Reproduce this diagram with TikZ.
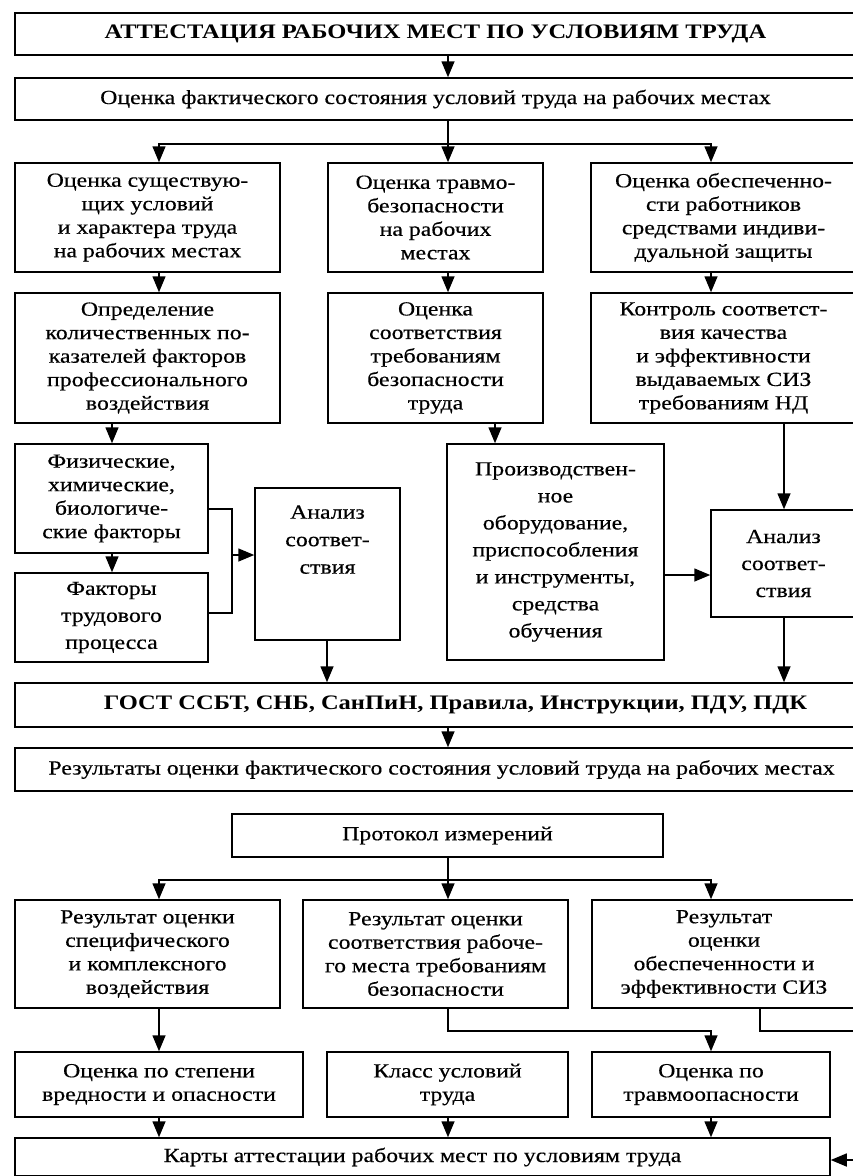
\documentclass[tikz,border=0pt]{standalone}
\usepackage{fontspec}
\setmainfont{Liberation Serif}[FakeStretch=1.19, UprightFeatures={FakeBold=0.4}]
\usetikzlibrary{arrows.meta,calc}
\tikzset{
  box/.style={draw, line width=1.5pt, inner sep=0pt, align=center,
    font=\fontsize{20}{23.5}\selectfont},
  widebox/.style={box, font=\fontsize{20}{27}\selectfont},
  bbox/.style={box, font=\fontsize{20.6}{23.5}\selectfont\bfseries},
  plain/.style={inner sep=0pt, align=center, font=\fontsize{20}{27.5}\selectfont},
  ln/.style={line width=1.5pt},
  arr/.style={line width=1.5pt, -{Triangle[length=16pt,width=13pt]}},
}
\newcommand\mkbox[7][box]{%
  \node[#1, minimum width={(#5-#3)*1pt}, minimum height={(#6-#4)*1pt}]
    (#2) at ({(#3+#5)/2},{-(#4+#6)/2}) {#7};}
\begin{document}
\begin{tikzpicture}[x=1pt,y=1pt]
\useasboundingbox (0,0) rectangle (852,-1176);
\fill[white] (0,0) rectangle (852,-1176);
% columns
\coordinate (xa) at (159,0);
\coordinate (xb) at (448,0);
\coordinate (xc) at (711,0);
\coordinate (xd) at (112,0);
\coordinate (xe) at (495,0);
\coordinate (xf) at (784,0);
\coordinate (xg) at (327,0);
\coordinate (xh) at (760,0);
% boxes
\mkbox[bbox]{title}{15}{13}{856}{55}{АТТЕСТАЦИЯ РАБОЧИХ МЕСТ ПО УСЛОВИЯМ ТРУДА}
\mkbox{oc}{15}{78}{856}{120}{Оценка фактического состояния условий труда на рабочих местах}
\mkbox{b1}{15}{163}{280}{272}{Оценка существую-\\щих условий\\и характера труда\\на рабочих местах}
\mkbox{b2}{328}{163}{543}{272}{Оценка травмо-\\безопасности\\на рабочих\\местах}
\mkbox{b3}{591}{163}{856}{272}{Оценка обеспеченно-\\сти работников\\средствами индиви-\\дуальной защиты}
\mkbox{c1}{15}{293}{280}{423}{Определение\\количественных по-\\казателей факторов\\профессионального\\воздействия}
\mkbox{c2}{328}{293}{543}{423}{Оценка\\соответствия\\требованиям\\безопасности\\труда}
\mkbox{c3}{591}{293}{856}{423}{Контроль соответст-\\вия качества\\и эффективности\\выдаваемых СИЗ\\требованиям НД}
\mkbox{d1}{15}{444}{208}{553}{Физические,\\химические,\\биологиче-\\ские факторы}
\mkbox[widebox]{d2}{15}{573}{208}{662}{Факторы\\трудового\\процесса}
\mkbox{an1}{255}{488}{400}{640}{}
\node[plain, anchor=north] (an1t) at ($(an1.north)+(0,-18)$) {Анализ\\соответ-\\ствия};
\mkbox[widebox]{pr}{447}{444}{664}{660}{Производствен-\\ное\\оборудование,\\приспособления\\и инструменты,\\средства\\обучения}
\mkbox[widebox]{an2}{711}{510}{856}{617}{Анализ\\соответ-\\ствия}
\mkbox[bbox]{gost}{15}{683}{856}{727}{\hspace*{40pt}ГОСТ ССБТ, СНБ, СанПиН, Правила, Инструкции, ПДУ, ПДК}
\mkbox{res}{15}{748}{856}{791}{\hspace*{12pt}Результаты оценки фактического состояния условий труда на рабочих местах}
\mkbox{prot}{232}{814}{663}{857}{Протокол измерений}
\mkbox{r1}{15}{900}{280}{1008}{Результат оценки\\специфического\\и комплексного\\воздействия}
\mkbox{r2}{303}{900}{568}{1008}{Результат оценки\\соответствия рабоче-\\го места требованиям\\безопасности}
\mkbox{r3}{592}{900}{856}{1008}{Результат\\оценки\\обеспеченности и\\эффективности СИЗ}
\mkbox{e1}{15}{1052}{303}{1117}{Оценка по степени\\вредности и опасности}
\mkbox{e2}{327}{1052}{568}{1117}{Класс условий\\труда}
\mkbox{e3}{592}{1052}{830}{1117}{Оценка по\\травмоопасности}
\mkbox{karty}{15}{1138}{830}{1176}{Карты аттестации рабочих мест по условиям труда}
% connectors
\draw[arr] (title.south -| xb) -- (oc.north -| xb);
\draw[ln] (oc.south -| xb) -- ++(0,-23) coordinate (br1);
\draw[arr] (br1) -| (b1.north -| xa);
\draw[arr] (br1) -- (b2.north -| xb);
\draw[arr] (br1) -| (b3.north -| xc);
\draw[arr] (b1.south -| xa) -- (c1.north -| xa);
\draw[arr] (b2.south -| xb) -- (c2.north -| xb);
\draw[arr] (b3.south -| xc) -- (c3.north -| xc);
\draw[arr] (c1.south -| xd) -- (d1.north -| xd);
\draw[arr] (d1.south -| xd) -- (d2.north -| xd);
\coordinate (yb1) at (0,-509);
\coordinate (yb2) at (0,-613);
\coordinate (jn) at (232,-555);
\draw[ln] (d1.east |- yb1) -| (jn);
\draw[ln] (d2.east |- yb2) -| (jn);
\draw[arr] (jn) -- (an1.west |- jn);
\draw[arr] (c2.south -| xe) -- (pr.north -| xe);
\draw[arr] (c3.south -| xf) -- (an2.north -| xf);
\coordinate (ypr) at (0,-575);
\draw[arr] (pr.east |- ypr) -- (an2.west |- ypr);
\draw[arr] (an1.south -| xg) -- (gost.north -| xg);
\draw[arr] (an2.south -| xf) -- (gost.north -| xf);
\draw[arr] (gost.south -| xb) -- (res.north -| xb);
\draw[ln] (prot.south -| xb) -- ++(0,-22) coordinate (br2);
\draw[arr] (br2) -| (r1.north -| xa);
\draw[arr] (br2) -- (r2.north -| xb);
\draw[arr] (br2) -| (r3.north -| xc);
\draw[arr] (r1.south -| xa) -- (e1.north -| xa);
\draw[arr] (r2.south -| xb) -- ++(0,-22) -| (e3.north -| xc);
\coordinate (rc) at (864,-1160);
\draw[arr] (r3.south -| xh) -- ++(0,-22) -| (rc) -- (karty.east |- rc);
\draw[arr] (e1.south -| xa) -- (karty.north -| xa);
\draw[arr] (e2.south -| xb) -- (karty.north -| xb);
\draw[arr] (e3.south -| xc) -- (karty.north -| xc);
\end{tikzpicture}
\end{document}
